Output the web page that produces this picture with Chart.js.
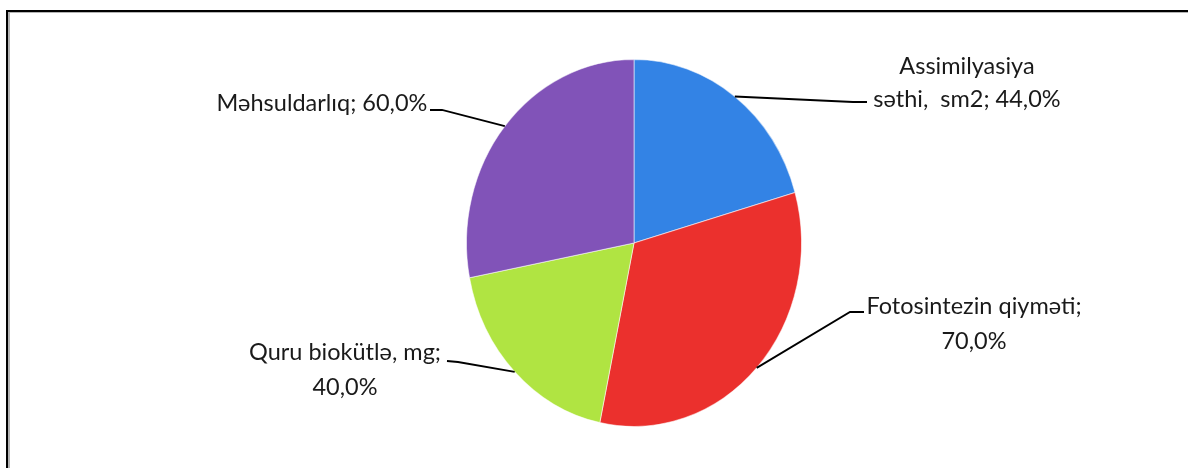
<!DOCTYPE html>
<html>
<head>
<meta charset="utf-8">
<script src="https://cdn.jsdelivr.net/npm/chart.js@4"></script>
<style>
  html, body { margin: 0; padding: 0; background: #fff; overflow: hidden; }
  #wrap { position: relative; width: 1188px; height: 468px; overflow: hidden; }
  #frame { position: absolute; left: 6px; top: 10px; width: 1300px; height: 600px;
           border-left: 2px solid #000; border-top: 2px solid #000; }
  #frame2 { position: absolute; left: 0; top: 0; width: 1300px; height: 600px;
            border-left: 2px solid #b4b4b4; border-top: 1px solid #b4b4b4; }
  canvas { position: absolute; left: 0; top: 0; }
</style>
</head>
<body>
<div id="wrap">
  <div id="frame"><div id="frame2"></div></div>
  <canvas id="c" width="1188" height="468"></canvas>
</div>
<script>
// ---- data ----
const categories = [
  ["Assimilyasiya", "səthi,  sm2"],
  ["Fotosintezin qiyməti"],
  ["Quru biokütlə, mg"],
  ["Məhsuldarlıq"]
];
const values = [44.0, 70.0, 40.0, 60.0];
const colors = ["#3383e5", "#eb302d", "#b0e442", "#8153b8"];

// ---- label layout (positions only) ----
const labelLayout = [
  { cx: 967, base: 74, lh: 33, elbow: [853, 102], stub: [867, 102] },
  { cx: 974, base: 314, lh: 35, elbow: [850, 312], stub: [864, 312] },
  { cx: 345, base: 360, lh: 35, elbow: [458, 362], stub: [447, 361] },
  { cx: 322, base: 111, lh: 34, elbow: [442, 110], stub: [430, 110] }
];

const YSCALE = 184 / 168;

function fmt(v) { return v.toFixed(1).replace('.', ',') + '%'; }

function labelLines(i) {
  const name = categories[i];
  const pct = fmt(values[i]);
  if (i === 0) return [name[0], name[1] + '; ' + pct];
  if (i === 1) return [name[0] + ';', pct];
  if (i === 2) return [name[0] + ';', pct];
  return [name[0] + '; ' + pct];
}

const ellipsePlugin = {
  id: 'ellipse',
  beforeDatasetsDraw(chart) {
    const arc = chart.getDatasetMeta(0).data[0];
    const ctx = chart.ctx;
    ctx.save();
    ctx.translate(arc.x, arc.y);
    ctx.scale(1, YSCALE);
    ctx.translate(-arc.x, -arc.y);
  },
  afterDatasetsDraw(chart) {
    chart.ctx.restore();
  }
};

const labelPlugin = {
  id: 'labels',
  afterDraw(chart) {
    const ctx = chart.ctx;
    const meta = chart.getDatasetMeta(0);
    meta.data.forEach((arc, i) => {
      const L = labelLayout[i];
      const mid = (arc.startAngle + arc.endAngle) / 2;
      const px = arc.x + Math.cos(mid) * arc.outerRadius;
      const py = arc.y + Math.sin(mid) * arc.outerRadius * YSCALE;
      ctx.save();
      ctx.strokeStyle = '#000';
      ctx.lineWidth = 1.8;
      ctx.beginPath();
      ctx.moveTo(px, py);
      ctx.lineTo(L.elbow[0], L.elbow[1]);
      ctx.lineTo(L.stub[0], L.stub[1]);
      ctx.stroke();
      ctx.fillStyle = '#1a1a1a';
      ctx.font = '23.5px Lato, "Open Sans", sans-serif';
      ctx.textAlign = 'center';
      ctx.textBaseline = 'alphabetic';
      const lines = labelLines(i);
      lines.forEach((t, k) => {
        ctx.save();
        ctx.translate(L.cx, L.base + k * L.lh);
        ctx.scale(1, 1.02);
        ctx.fillText(t, 0, 0);
        ctx.restore();
      });
      ctx.restore();
    });
  }
};

new Chart(document.getElementById('c'), {
  type: 'pie',
  data: {
    labels: categories.map(c => c.join(' ')),
    datasets: [{
      data: values,
      backgroundColor: colors,
      borderColor: 'rgba(255,255,255,0.55)',
      borderWidth: 1
    }]
  },
  options: {
    responsive: false,
    animation: false,
    layout: { padding: { left: 80, right: 0, top: 75, bottom: 57 } },
    plugins: {
      legend: { display: false },
      tooltip: { enabled: false },
      title: { display: false }
    }
  },
  plugins: [ellipsePlugin, labelPlugin]
});
</script>
</body>
</html>
